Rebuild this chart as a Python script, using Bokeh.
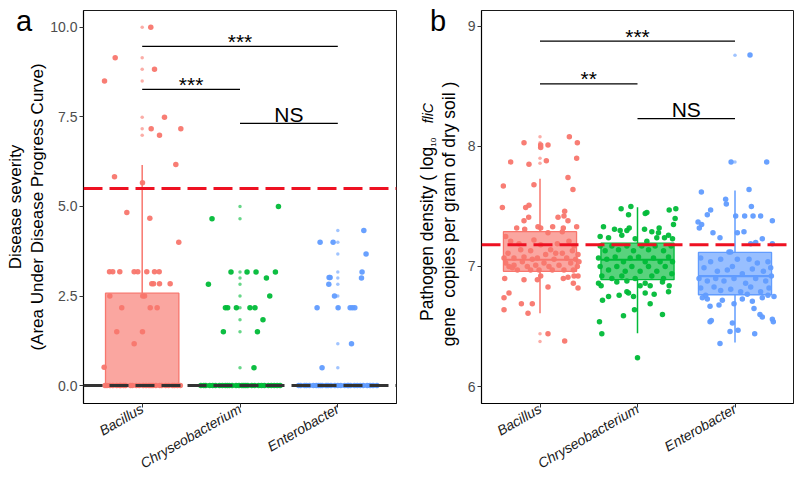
import math
from bokeh.plotting import figure
from bokeh.layouts import row
from bokeh.models import (Range1d, FixedTicker, PrintfTickFormatter, Span,
                          ColumnDataSource, Title, Div)
from bokeh.embed import file_html
from bokeh.resources import INLINE
from bokeh.core.properties import value

FONT = "Liberation Sans"

groups = ["Bacillus", "Chryseobacterium", "Enterobacter"]
colors = ["#F8766D", "#00BA38", "#619CFF"]

# ---------------- panel a : disease severity ----------------
a_q1 = [0.0, 0.0, 0.0]
a_med = [0.0, 0.0, 0.0]
a_q3 = [2.58, 0.0, 0.0]
a_lo = [0.0, 0.0, 0.0]
a_hi = [6.16, 0.0, 0.0]
a_ref_red = 5.5
a_ref_black = 0.0

# jittered points: (value, horizontal jitter)
a_pts_bac = [(10.0, 0.088), (9.15, -0.276), (8.83, 0.126), (8.5, -0.385), (7.49, 0.228),
             (7.17, 0.092), (7.17, 0.395), (6.99, 0.177), (6.17, 0.344), (5.83, -0.283),
             (5.66, 0.003), (4.83, -0.157), (4.67, 0.078), (4.0, 0.374),
             (3.18, -0.334), (3.18, -0.301), (3.18, -0.229), (3.18, -0.082), (3.18, -0.045),
             (3.18, 0.047), (3.18, 0.126), (3.18, 0.174),
             (2.84, 0.098), (2.84, 0.116), (2.84, 0.177), (2.84, 0.286),
             (2.5, -0.331), (2.5, 0.006), (2.5, 0.024),
             (2.17, -0.209), (2.17, 0.082), (2.17, 0.153),
             (1.5, -0.26), (1.5, 0.003), (1.17, -0.082), (0.51, -0.389),
             (0, -0.38), (0, -0.36), (0, -0.33), (0, -0.3), (0, -0.26), (0, -0.23), (0, -0.19),
             (0, -0.17), (0, -0.12), (0, -0.1), (0, -0.06), (0, -0.03), (0, 0.01), (0, 0.04),
             (0, 0.07), (0, 0.11), (0, 0.14), (0, 0.18), (0, 0.2), (0, 0.24), (0, 0.27),
             (0, 0.31), (0, 0.33), (0, 0.36), (0, 0.39), (0, -0.22), (0, 0.09)]
a_pts_chr = [(5.0, 0.393), (4.66, -0.286),
             (3.17, -0.092), (3.17, 0.072), (3.17, 0.164), (3.17, 0.362),
             (3.0, 0.27), (2.83, -0.323), (2.5, 0.304),
             (2.17, -0.149), (2.17, -0.126), (2.17, -0.037), (2.17, 0.102), (2.17, 0.153),
             (1.84, 0.235), (1.5, -0.17), (1.5, 0.178), (0.5, 0.143),
             (0, -0.4), (0, -0.37), (0, -0.35), (0, -0.31), (0, -0.28), (0, -0.25), (0, -0.21),
             (0, -0.18), (0, -0.15), (0, -0.11), (0, -0.08), (0, -0.04), (0, -0.01), (0, 0.02),
             (0, 0.06), (0, 0.08), (0, 0.12), (0, 0.15), (0, 0.19), (0, 0.22), (0, 0.25),
             (0, 0.29), (0, 0.32), (0, 0.35), (0, 0.38), (0, 0.41), (0, -0.13), (0, 0.04)]
a_pts_ent = [(4.33, 0.266), (4.0, -0.181), (4.0, -0.048), (3.67, 0.289), (3.17, 0.248),
             (3.02, -0.089), (3.02, -0.079), (3.0, 0.242), (2.83, -0.092), (2.5, -0.034),
             (2.17, -0.212), (2.17, 0.003), (2.17, 0.126), (2.17, 0.15), (2.17, 0.174),
             (1.17, 0.14), (0.5, -0.161),
             (0, -0.4), (0, -0.38), (0, -0.34), (0, -0.32), (0, -0.29), (0, -0.25), (0, -0.22),
             (0, -0.2), (0, -0.16), (0, -0.12), (0, -0.1), (0, -0.07), (0, -0.03), (0, 0.0),
             (0, 0.03), (0, 0.07), (0, 0.1), (0, 0.13), (0, 0.17), (0, 0.2), (0, 0.23),
             (0, 0.26), (0, 0.3), (0, 0.33), (0, 0.36), (0, 0.4), (0, -0.18), (0, 0.11)]
a_out_bac = [10.0, 9.15, 8.83, 8.5, 7.49, 7.17, 6.99]
a_out_chr = [5.0, 4.66, 3.17, 3.0, 2.83, 2.5, 2.17, 1.84, 1.5, 0.5]
a_out_ent = [4.33, 4.0, 3.67, 3.17, 3.0, 2.83, 2.5, 2.17, 1.17, 0.5]
a_sig_from = ["Bacillus", "Bacillus", "Chryseobacterium"]
a_sig_to = ["Enterobacter", "Chryseobacterium", "Enterobacter"]
a_sig_y = [9.47, 8.27, 7.32]
a_sig_label = ["***", "***", "NS"]
a_yticks = [0.0, 2.5, 5.0, 7.5, 10.0]
a_ylabel = ["Disease severity", "(Area Under Disease Progress Curve)"]

# ---------------- panel b : pathogen density ----------------
b_q1 = [6.96, 6.89, 6.765]
b_med = [7.056, 7.056, 6.92]
b_q3 = [7.29, 7.194, 7.117]
b_lo = [6.61, 6.444, 6.367]
b_hi = [7.73, 7.492, 7.633]
b_ref_red = 7.18

b_pts_bac = [(8.03, -0.164), (8.01, 0.007), (7.99, 0.007), (8.01, 0.082), (8.08, 0.301),
             (8.03, 0.383), (7.87, -0.301), (7.85, -0.113), (7.88, 0.065), (7.90, 0.376),
             (7.67, -0.376), (7.68, -0.062), (7.74, 0.287), (7.64, 0.338), (7.49, -0.386),
             (7.49, -0.147), (7.51, -0.113), (7.38, -0.164), (7.41, -0.116), (7.46, 0.253),
             (7.41, 0.185), (7.42, 0.246), (7.38, 0.287), (7.32, -0.239), (7.31, -0.157),
             (7.33, -0.021), (7.32, 0.007), (7.28, 0.082), (7.33, 0.130), (7.32, 0.239),
             (7.33, 0.376), (7.29, 0.229),
             (7.25, -0.352), (7.21, -0.301), (7.11, -0.328), (7.07, -0.267), (7.14, -0.198),
             (7.13, -0.096), (7.22, -0.062), (7.18, 0.007), (7.10, 0.058), (7.14, 0.109),
             (7.19, 0.178), (7.11, 0.229), (7.21, 0.297), (7.17, 0.349), (7.10, 0.390),
             (7.03, -0.352), (7.00, -0.318), (7.01, -0.267), (6.97, -0.232), (7.04, -0.181),
             (7.00, -0.130), (7.06, -0.079), (7.01, -0.044), (6.97, -0.010), (7.03, 0.041),
             (7.00, 0.092), (7.06, 0.144), (7.01, 0.195), (6.97, 0.246), (7.03, 0.315),
             (7.06, 0.366), (7.00, 0.383), (7.07, -0.369), (6.99, -0.284), (7.08, -0.164),
             (7.07, -0.027), (6.97, 0.126), (7.07, 0.274), (6.97, 0.342), (7.04, 0.400),
             (7.13, 0.332), (7.19, -0.215), (7.11, 0.161), (6.97, -0.096),
             (6.90, -0.362), (6.89, -0.164), (6.89, -0.027), (6.92, 0.007), (6.83, 0.082),
             (6.90, 0.239), (6.91, 0.287), (6.92, 0.349), (6.92, 0.390), (6.86, 0.342),
             (6.82, 0.390), (6.74, -0.369), (6.78, -0.318), (6.69, -0.191), (6.69, -0.079),
             (6.61, -0.123), (6.64, -0.369), (6.44, 0.082), (6.38, 0.253)]
b_pts_chr = [(7.48, -0.168), (7.50, -0.068), (7.43, -0.092), (7.45, 0.096), (7.44, 0.079),
             (7.47, 0.325), (7.48, 0.393), (7.40, 0.386), (7.35, 0.369), (7.33, -0.349),
             (7.31, -0.236), (7.30, -0.178), (7.30, -0.109), (7.32, -0.085), (7.31, 0.072),
             (7.29, 0.147), (7.32, 0.222), (7.28, 0.215), (7.26, 0.318), (7.25, -0.383),
             (7.24, -0.297), (7.26, -0.161), (7.23, -0.024), (7.21, 0.096), (7.24, 0.198),
             (7.24, 0.277), (7.23, 0.359),
             (7.17, -0.383), (7.13, -0.332), (7.17, -0.263), (7.14, -0.195), (7.17, -0.109),
             (7.13, -0.041), (7.17, 0.044), (7.14, 0.113), (7.17, 0.181), (7.13, 0.267),
             (7.17, 0.345), (7.07, -0.400), (7.06, -0.315), (7.08, -0.229), (7.04, -0.144),
             (7.07, -0.075), (7.08, 0.010), (7.04, 0.079), (7.07, 0.164), (7.04, 0.232),
             (7.08, 0.318), (7.04, 0.359), (7.00, -0.383), (6.97, -0.297), (7.00, -0.212),
             (6.96, -0.126), (7.00, -0.058), (6.96, 0.027), (7.00, 0.113), (6.96, 0.198),
             (7.00, 0.284), (6.94, 0.352), (6.92, -0.366), (6.90, -0.263), (6.92, -0.161),
             (6.90, -0.024), (6.92, 0.147), (6.90, 0.267),
             (6.86, -0.400), (6.84, -0.373), (6.87, -0.212), (6.88, -0.109), (6.84, 0.027),
             (6.86, 0.079), (6.84, 0.130), (6.87, 0.256), (6.84, 0.325), (6.75, -0.297),
             (6.72, -0.359), (6.76, -0.188), (6.79, -0.109), (6.78, -0.092), (6.75, -0.041),
             (6.78, 0.079), (6.77, 0.171), (6.79, 0.318), (6.69, 0.130), (6.64, -0.031),
             (6.59, -0.144), (6.60, 0.256), (6.54, -0.390), (6.44, -0.366), (6.24, 0.0)]
b_pts_ent = [(8.76, 0.154), (7.87, -0.040), (7.87, 0.325), (7.62, -0.345), (7.64, 0.144),
             (7.56, -0.096), (7.52, -0.089), (7.50, 0.168), (7.47, -0.250), (7.43, -0.284),
             (7.42, 0.007), (7.42, 0.099), (7.42, 0.185), (7.42, 0.263), (7.38, 0.383),
             (7.37, -0.379), (7.35, -0.342), (7.32, -0.366), (7.28, -0.226), (7.28, 0.024),
             (7.29, 0.092), (7.24, -0.154), (7.23, 0.280), (7.19, 0.161), (7.20, 0.212),
             (7.19, 0.383), (7.12, -0.062), (7.12, -0.044),
             (7.07, -0.352), (7.04, -0.250), (7.06, -0.147), (7.00, -0.027), (7.06, 0.024),
             (7.06, 0.144), (7.03, 0.229), (7.04, 0.338), (6.99, -0.318), (6.96, -0.181),
             (6.97, -0.079), (6.94, 0.075), (6.98, 0.178), (6.96, 0.291), (6.99, 0.366),
             (6.90, -0.369), (6.88, -0.284), (6.90, -0.198), (6.88, -0.113), (6.90, -0.010),
             (6.86, 0.109), (6.90, 0.212), (6.88, 0.315), (6.92, 0.373), (6.82, -0.352),
             (6.83, -0.215), (6.80, -0.147), (6.81, -0.044), (6.79, 0.058), (6.83, 0.161),
             (6.79, 0.263), (6.82, 0.349), (6.76, -0.301), (6.77, 0.126),
             (6.74, -0.335), (6.73, -0.284), (6.72, -0.130), (6.73, 0.075), (6.71, 0.178),
             (6.74, 0.280), (6.76, 0.338), (6.75, 0.400), (6.69, -0.010), (6.67, -0.256),
             (6.68, -0.164), (6.65, 0.195), (6.60, 0.256), (6.58, 0.280), (6.56, 0.383),
             (6.54, 0.393), (6.54, -0.256), (6.55, -0.243), (6.53, -0.027), (6.46, -0.051),
             (6.47, 0.031), (6.44, 0.202), (6.36, -0.154)]
b_out_bac = [8.08, 8.03, 8.01, 7.99, 7.90, 7.86, 6.44, 6.375]
b_out_chr = [6.236]
b_out_ent = [8.758, 7.869]
b_sig_from = ["Bacillus", "Bacillus", "Chryseobacterium"]
b_sig_to = ["Enterobacter", "Chryseobacterium", "Enterobacter"]
b_sig_y = [8.875, 8.52, 8.23]
b_sig_label = ["***", "**", "NS"]
b_yticks = [6, 7, 8, 9]
b_ylabel_html = [
    'Pathogen density ( log<span style="font-size:8px;position:relative;top:3px">10</span>'
    '&nbsp;&nbsp;&nbsp;<i style="font-size:14px">fliC</i>',
    'gene&nbsp; copies per gram of dry soil )',
]

BOX_HALF = 0.375
PT_SIZE = 5.5
OUT_SIZE = 3.5
TEXT_LIFT = {"***": 5.0, "**": 5.0, "NS": 9.0}   # px above bracket for label baseline
HEIGHT = 481
B_TOP = 10
B_BOTTOM = 78


def make_panel(width, border_left, border_right, yr, yticks, yfmt,
               q1, med, q3, lo, hi, pts, outs, sig_from, sig_to, sig_y, sig_label,
               ref_lines):
    p = figure(width=width, height=HEIGHT, x_range=Range1d(0.4, 3.6),
               y_range=Range1d(*yr), output_backend="svg", toolbar_location=None,
               min_border_left=border_left, min_border_right=border_right,
               min_border_top=B_TOP, min_border_bottom=B_BOTTOM)
    p.grid.visible = False
    p.outline_line_color = "#1a1a1a"
    p.outline_line_width = 1
    p.background_fill_color = "white"

    xs = [i + 1 for i in range(len(groups))]
    box_src = ColumnDataSource(dict(
        x=xs, left=[x - BOX_HALF for x in xs], right=[x + BOX_HALF for x in xs],
        q1=q1, med=med, q3=q3, lo=lo, hi=hi, color=colors))
    p.segment(x0="x", x1="x", y0="q3", y1="hi", source=box_src, line_color="color",
              line_width=1.5)
    p.segment(x0="x", x1="x", y0="q1", y1="lo", source=box_src, line_color="color",
              line_width=1.5)
    p.quad(left="left", right="right", bottom="q1", top="q3", source=box_src,
           fill_color="color", fill_alpha=0.65, line_color="color", line_width=1.3)
    p.segment(x0="left", x1="right", y0="med", y1="med", source=box_src,
              line_color="color", line_width=2.2)

    for gi, (gpts, gout) in enumerate(zip(pts, outs)):
        xo = [gi + 1 for _ in gout]
        p.scatter(xo, gout, size=OUT_SIZE, fill_color=colors[gi], line_color=None,
                  fill_alpha=0.6)
        px = [gi + 1 + d for (_, d) in gpts]
        py = [v for (v, _) in gpts]
        p.scatter(px, py, size=PT_SIZE, fill_color=colors[gi], line_color=None,
                  fill_alpha=0.95)

    for loc, col in ref_lines:
        p.add_layout(Span(location=loc, dimension="width", line_color=col,
                          line_width=3, line_dash="19 7"))

    # significance brackets
    frame_h = HEIGHT - B_TOP - B_BOTTOM
    ppu = frame_h / (yr[1] - yr[0])
    gx = {g: i + 1 for i, g in enumerate(groups)}
    sx0 = [gx[a] for a in sig_from]
    sx1 = [gx[b] for b in sig_to]
    p.segment(x0=sx0, x1=sx1, y0=sig_y, y1=sig_y, line_color="black", line_width=1.3)
    tx = [(a + b) / 2 for a, b in zip(sx0, sx1)]
    ty = [y + TEXT_LIFT[l] / ppu for y, l in zip(sig_y, sig_label)]
    p.text(tx, ty, text=sig_label, text_align="center", text_baseline="alphabetic",
           text_font=value(FONT), text_font_size="21px", text_color="black")

    p.xaxis.ticker = FixedTicker(ticks=xs)
    p.xaxis.major_label_overrides = {x: g for x, g in zip(xs, groups)}
    p.xaxis.major_label_orientation = math.pi / 6
    p.xaxis.major_label_text_font_style = "italic"
    p.yaxis.ticker = FixedTicker(ticks=yticks)
    p.yaxis.formatter = PrintfTickFormatter(format=yfmt)
    for ax in (p.xaxis[0], p.yaxis[0]):
        ax.axis_line_color = "black"
        ax.axis_line_width = 1.2
        ax.major_tick_line_color = "#333333"
        ax.major_tick_out = 4
        ax.major_tick_in = 0
        ax.minor_tick_line_color = None
        ax.major_label_text_font = FONT
        ax.major_label_text_font_size = "14px"
        ax.major_label_standoff = 2
    p.xaxis.major_label_standoff = 0
    p.xaxis.major_label_text_color = "#1a1a1a"
    p.yaxis.major_label_text_color = "#4d4d4d"
    return p


pa = make_panel(400, 83, 4, (-0.5, 10.47), a_yticks, "%.1f",
                a_q1, a_med, a_q3, a_lo, a_hi,
                [a_pts_bac, a_pts_chr, a_pts_ent], [a_out_bac, a_out_chr, a_out_ent],
                a_sig_from, a_sig_to, a_sig_y, a_sig_label,
                [(a_ref_red, "#EE1122"), (a_ref_black, "#333333")])
# panel a: two-line y-axis title, inner line first
for txt in reversed(a_ylabel):
    pa.add_layout(Title(text=txt, align="center", text_font=FONT,
                        text_font_size="17px", text_font_style="normal",
                        text_color="black", standoff=1, offset=6), "left")

pb = make_panel(400, 81, 7, (5.86, 9.13), b_yticks, "%d",
                b_q1, b_med, b_q3, b_lo, b_hi,
                [b_pts_bac, b_pts_chr, b_pts_ent], [b_out_bac, b_out_chr, b_out_ent],
                b_sig_from, b_sig_to, b_sig_y, b_sig_label,
                [(b_ref_red, "#EE1122")])


def float_text(html, cx, cy, w, h, size, rotate=False, align="left"):
    st = {"position": "absolute", "left": f"{cx - w / 2}px", "top": f"{cy - h / 2}px",
          "z-index": "10", "font-size": size, "line-height": f"{h}px",
          "font-family": FONT, "color": "black", "white-space": "nowrap",
          "text-align": align}
    if rotate:
        st["transform"] = "rotate(-90deg)"
        st["transform-origin"] = "center center"
    return Div(text=html, width=w, height=h, styles=st)


letter_a = float_text("a", 26, 16, 30, 34, "29px")
letter_b = float_text("b", 440, 16, 30, 34, "29px")
b_lab1 = float_text(b_ylabel_html[0], 422, 207, 260, 22, "17.5px", True, "center")
b_lab2 = float_text(b_ylabel_html[1], 444, 209, 290, 22, "17.5px", True, "center")

layout = row(letter_a, letter_b, b_lab1, b_lab2, pa, pb)
open("out.html", "w").write(file_html(layout, INLINE))
